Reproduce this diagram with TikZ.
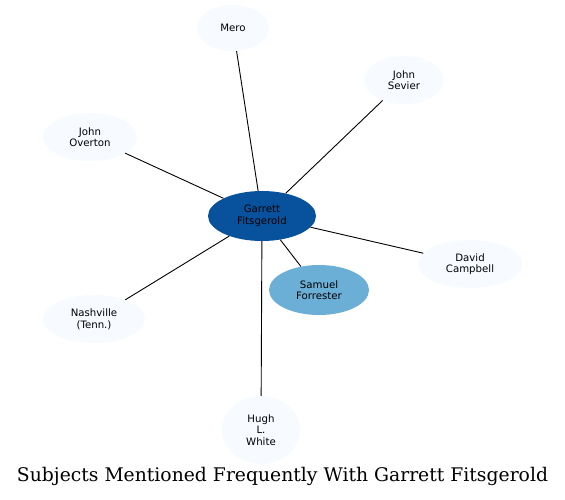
\documentclass[tikz,border=0pt]{standalone}
\usepackage{fontspec}
\setmainfont{DejaVu Sans}
\newfontfamily\titlefont{DejaVu Serif}
\usetikzlibrary{shapes.geometric}
\definecolor{lightnode}{HTML}{F7FBFF}
\definecolor{darknode}{HTML}{08519C}
\definecolor{midnode}{HTML}{6BAED6}
\begin{document}
\begin{tikzpicture}[x=1pt,y=-1pt,
  ent/.style={ellipse, draw=none, inner sep=0pt, align=center, font=\fontsize{10.2}{11.6}\selectfont},
  edge/.style={draw=black, line width=0.9pt}]
\useasboundingbox[fill=white] (0,0) rectangle (565,499);
\node[ent, fill=darknode, minimum width=108, minimum height=50] (g) at (262,216) {Garrett\\Fitsgerold};
\node[ent, fill=lightnode, minimum width=72, minimum height=46] (mero) at (233,28) {Mero};
\node[ent, fill=lightnode, minimum width=80, minimum height=48] (sevier) at (404,80) {John\\Sevier};
\node[ent, fill=lightnode, minimum width=94, minimum height=48] (overton) at (90,137) {John\\Overton};
\node[ent, fill=lightnode, minimum width=104, minimum height=48] (campbell) at (470,264) {David\\Campbell};
\node[ent, fill=midnode, minimum width=100, minimum height=50] (forrester) at (319,290) {Samuel\\Forrester};
\node[ent, fill=lightnode, minimum width=102, minimum height=48] (nash) at (94,319) {Nashville\\(Tenn.)};
\node[ent, fill=lightnode, minimum width=78, minimum height=68] (white) at (261,430) {Hugh\\L.\\White};
\node[inner sep=0pt] (title) at (282.5,476) {\resizebox{531pt}{!}{\titlefont\fontsize{14}{16}\selectfont Subjects Mentioned Frequently With Garrett Fitsgerold}};
\draw[edge] (g) -- (mero);
\draw[edge] (g) -- (sevier);
\draw[edge] (g) -- (overton);
\draw[edge] (g) -- (campbell);
\draw[edge] (g) -- (forrester);
\draw[edge] (g) -- (nash);
\draw[edge] (g) -- (white);
\end{tikzpicture}
\end{document}
